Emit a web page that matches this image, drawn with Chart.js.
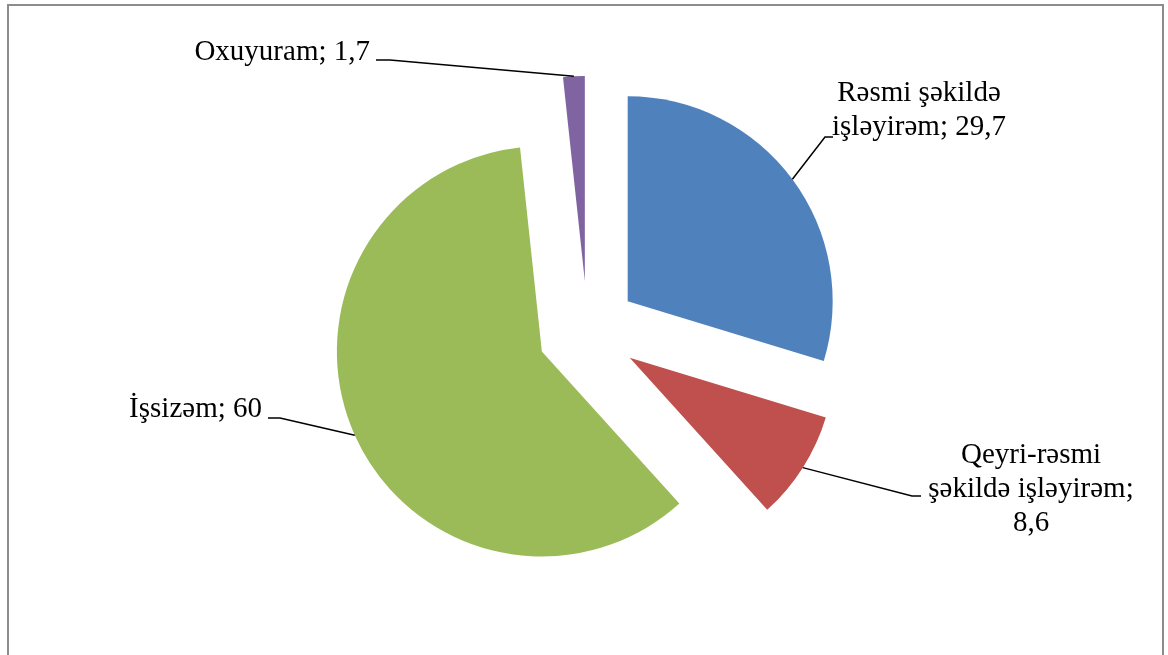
<!DOCTYPE html>
<html>
<head>
<meta charset="utf-8">
<script src="https://cdn.jsdelivr.net/npm/chart.js@4.4.1/dist/chart.umd.min.js"></script>
<style>
    html, body { margin: 0; padding: 0; background: #fff; }
    #wrap { width: 1168px; height: 655px; }
</style>
</head>
<body>
<div id="wrap"><canvas id="myChart" width="1168" height="655"></canvas></div>
<script>
const categories = ['Rəsmi şəkildə işləyirəm', 'Qeyri-rəsmi şəkildə işləyirəm', 'İşsizəm', 'Oxuyuram']
const shares = [29.7, 8.6, 60, 1.7]
const colors = ['#4F81BD', '#C0504D', '#9BBB59', '#8064A2']

// where each label sits and how its leader line bends (layout only)
const labelLayout = [
    { x: 919, y: 101, maxWidth: 190, bend: [[825, 137], [833, 137]] },
    { x: 1031, y: 463, maxWidth: 215, bend: [[912, 496], [921, 496]] },
    { x: 262, y: 417, align: 'right', maxWidth: 400, bend: [[280, 418], [268, 418]] },
    { x: 370, y: 60, align: 'right', maxWidth: 400, bend: [[390, 60], [376, 60]] },
]

const EXPLODE = 50
const FONT = '29px "Liberation Serif", "Times New Roman", serif'
const LINE_H = 34

// pull every slice out from the centre along its mid angle
const explodePlugin = {
    id: 'explode',
    afterDatasetUpdate(chart, args) {
        args.meta.data.forEach(arc => {
            const mid = (arc.startAngle + arc.endAngle) / 2
            arc.x += EXPLODE * Math.cos(mid)
            arc.y += EXPLODE * Math.sin(mid)
        })
    }
}

const frame = {
    id: 'frame',
    beforeDraw(chart) {
        const ctx = chart.ctx
        ctx.save()
        ctx.strokeStyle = '#8c8c8c'
        ctx.lineWidth = 2
        ctx.strokeRect(8, 5, 1155, 700)
        ctx.restore()
    }
}

function wrap(ctx, text, maxWidth) {
    const words = text.split(' ')
    const lines = []
    let cur = ''
    words.forEach(w => {
        const test = cur ? cur + ' ' + w : w
        if (cur && ctx.measureText(test).width > maxWidth) {
            lines.push(cur)
            cur = w
        } else {
            cur = test
        }
    })
    if (cur) lines.push(cur)
    return lines
}

const labels = {
    id: 'sliceLabels',
    afterDatasetsDraw(chart) {
        const ctx = chart.ctx
        const meta = chart.getDatasetMeta(0)
        ctx.save()
        ctx.font = FONT
        ctx.fillStyle = '#000'
        ctx.strokeStyle = '#000'
        ctx.lineWidth = 1.5
        meta.data.forEach((arc, i) => {
            const lay = labelLayout[i]
            const mid = (arc.startAngle + arc.endAngle) / 2
            const ax = arc.x + arc.outerRadius * Math.cos(mid)
            const ay = arc.y + arc.outerRadius * Math.sin(mid)

            ctx.beginPath()
            ctx.moveTo(ax, ay)
            lay.bend.forEach(p => ctx.lineTo(p[0], p[1]))
            ctx.stroke()

            const text = categories[i] + '; ' + String(shares[i]).replace('.', ',')
            const lines = wrap(ctx, text, lay.maxWidth)
            ctx.textAlign = lay.align || 'center'
            ctx.textBaseline = 'alphabetic'
            lines.forEach((ln, k) => ctx.fillText(ln, lay.x, lay.y + k * LINE_H))
        })
        ctx.restore()
    }
}

const ctx = document.getElementById('myChart')

const myChart = new Chart(ctx, {
    type: 'pie',
    data: {
        labels: categories,
        datasets: [
            {
                data: shares,
                backgroundColor: colors,
                borderWidth: 0,
                radius: 205,
            }
        ]
    },
    options: {
        responsive: false,
        animation: false,
        events: [],
        layout: {
            padding: { left: 7, right: 0, top: 7, bottom: 0 }
        },
        plugins: {
            legend: { display: false },
            tooltip: { enabled: false },
        }
    },
    plugins: [explodePlugin, frame, labels]
})
</script>
</body>
</html>
